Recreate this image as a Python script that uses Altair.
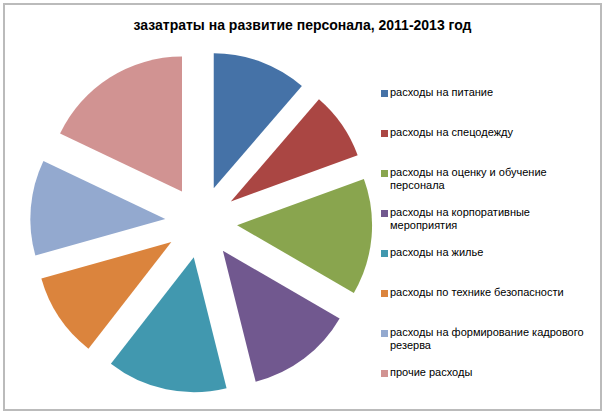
import altair as alt
import pandas as pd

categories = [
    "расходы на питание",
    "расходы на спецодежду",
    "расходы на оценку и обучение персонала",
    "расходы на корпоративные мероприятия",
    "расходы на жилье",
    "расходы по технике безопасности",
    "расходы на формирование кадрового резерва",
    "прочие расходы",
]
values = [11.3, 8.1, 13.9, 12.7, 14.4, 10.1, 11.4, 17.9]
colors = ["#4572A7", "#AA4643", "#89A54E", "#71588F", "#4198AF", "#DB843D", "#93A9CF", "#D19392"]
wrapped = {
    "расходы на оценку и обучение персонала": ["расходы на оценку и обучение", "персонала"],
    "расходы на корпоративные мероприятия": ["расходы на корпоративные", "мероприятия"],
    "расходы на формирование кадрового резерва": ["расходы на формирование кадрового", "резерва"],
}

df = pd.DataFrame({"category": categories, "value": values, "idx": list(range(len(categories)))})

CX, CY, EXPLODE, R = 197.2, 218, 36, 135

label_expr = ""
for k, v in wrapped.items():
    label_expr += "datum.label == '%s' ? ['%s', '%s'] : " % (k, v[0], v[1])
label_expr += "datum.label"

chart = (
    alt.Chart(df)
    .transform_window(cum="sum(value)", sort=[alt.SortField("idx")], frame=[None, 0])
    .transform_joinaggregate(total="sum(value)")
    .transform_calculate(mid="(datum.cum - datum.value/2) / datum.total * 2 * PI")
    .transform_calculate(
        px="%f + %f * sin(datum.mid)" % (CX, EXPLODE),
        py="%f - %f * cos(datum.mid)" % (CY, EXPLODE),
    )
    .mark_arc(outerRadius=R, stroke=None)
    .encode(
        theta=alt.Theta("value:Q", stack=True),
        order=alt.Order("idx:Q"),
        x=alt.X("px:Q", scale=None),
        y=alt.Y("py:Q", scale=None),
        color=alt.Color(
            "category:N",
            sort=categories,
            scale=alt.Scale(domain=categories, range=colors),
            legend=alt.Legend(
                title=None,
                orient="none",
                legendX=375,
                legendY=77,
                symbolType="M-1,1H1V3H-1Z",
                symbolSize=49,
                symbolStrokeWidth=0,
                labelFont="Liberation Sans",
                labelFontSize=11,
                labelColor="#000000",
                labelBaseline="top",
                labelLimit=300,
                labelOffset=0,
                labelExpr=label_expr,
                gridAlign="all",
                rowPadding=10,
                padding=0,
            ),
        ),
    )
    .properties(
        width=597,
        height=406,
        padding={"left": 4, "top": 4, "right": 6, "bottom": 6},
        autosize="none",
        title=alt.TitleParams(
            "зазатраты на развитие персонала, 2011-2013 год",
            font="Liberation Sans",
            fontSize=14,
            fontWeight="bold",
            color="#000000",
            anchor="middle",
            offset=-29,
        ),
    )
    .configure_view(stroke="#BBBBBB", strokeWidth=2)
)

chart.save("out.html", embed_options={"renderer": "svg", "actions": False})
